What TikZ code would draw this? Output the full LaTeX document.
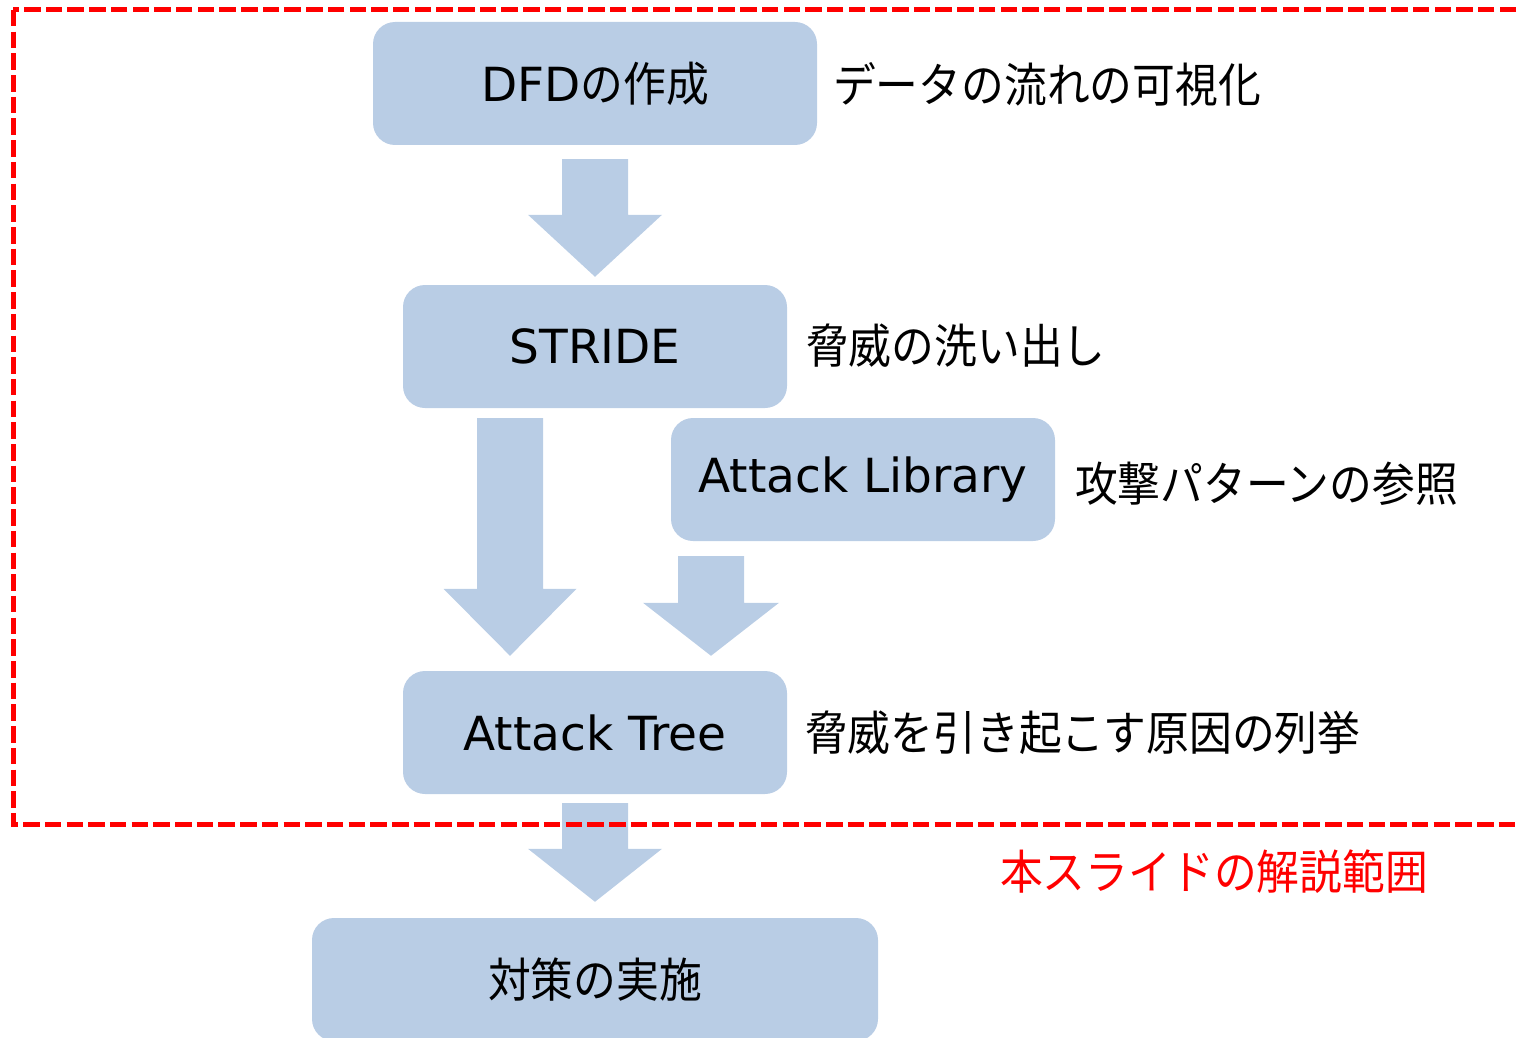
\documentclass[tikz,border=0pt]{standalone}
\usepackage{fontspec}
\setmainfont{DejaVu Sans}
\newfontfamily\latf{DejaVu Sans}
\newfontfamily\jpf[FakeStretch=0.91]{Noto Sans CJK JP}
\usetikzlibrary{calc}
\definecolor{boxblue}{HTML}{B9CDE5}
\definecolor{scopered}{HTML}{FF0000}
\newcommand\blockarrow[4]{%
  \fill[boxblue] let \p1=#1, \p2=#2 in
    (\x1-33pt,\y1) -- (\x1+33pt,\y1) -- (\x1+33pt,\y2+#3pt) -- (\x1+#4pt,\y2+#3pt)
    -- (\x1,\y2) -- (\x1-#4pt,\y2+#3pt) -- (\x1-33pt,\y2+#3pt) -- cycle;}
\tikzset{
  stepbox/.style={fill=boxblue, rounded corners=22pt, minimum height=123pt,
    inner sep=0pt, text=black, font=\latf\fontsize{47}{56}\selectfont},
  sidelbl/.style={anchor=west, inner sep=0pt, text=black,
    font=\jpf\fontsize{47}{56}\selectfont},
  jptext/.style={font=\jpf\fontsize{47}{56}\selectfont}
}
\begin{document}
\begin{tikzpicture}[x=1pt,y=-1pt]
\useasboundingbox (0,0) rectangle (1520,1038);
% boxes
\node[stepbox, minimum width=444pt] (dfd) at (595,83.5) {DFD{\jpf\fontsize{47}{56}\selectfont の作成}};
\node[stepbox, minimum width=384pt] (stride) at (595,346.5) {STRIDE};
\node[stepbox, minimum width=384pt] (lib) at (863,479.5) {Attack Library};
\node[stepbox, minimum width=384pt] (tree) at (595,732.5) {Attack Tree};
\node[stepbox, minimum width=566pt, jptext] (act) at (595,979.5) {対策の実施};
% side labels
\node[sidelbl] (l1) at (833,84) {データの流れの可視化};
\node[sidelbl] (l2) at (806,346) {脅威の洗い出し};
\node[sidelbl] (l3) at (1075,484) {攻撃パターンの参照};
\node[sidelbl] (l4) at (805,733) {脅威を引き起こす原因の列挙};
% block arrows
\blockarrow{($(dfd.south)+(0,14)$)}{($(stride.north)+(0,-8)$)}{62}{67}
\blockarrow{($(stride.south)+(-85,10)$)}{($(tree.north)+(-85,-15)$)}{67}{66.5}
\blockarrow{($(lib.south)+(-152,15)$)}{($(tree.north)+(116,-15)$)}{53}{68}
\blockarrow{($(tree.south)+(0,9)$)}{($(act.north)+(0,-16)$)}{53}{67}
% scope frame
\draw[scopered, line width=5pt, dash pattern=on 16.5pt off 5.2pt]
  (13,10) rectangle (1545,824.5);
\node[sidelbl, text=scopered] (scope) at (1000,872) {本スライドの解説範囲};
\end{tikzpicture}
\end{document}
